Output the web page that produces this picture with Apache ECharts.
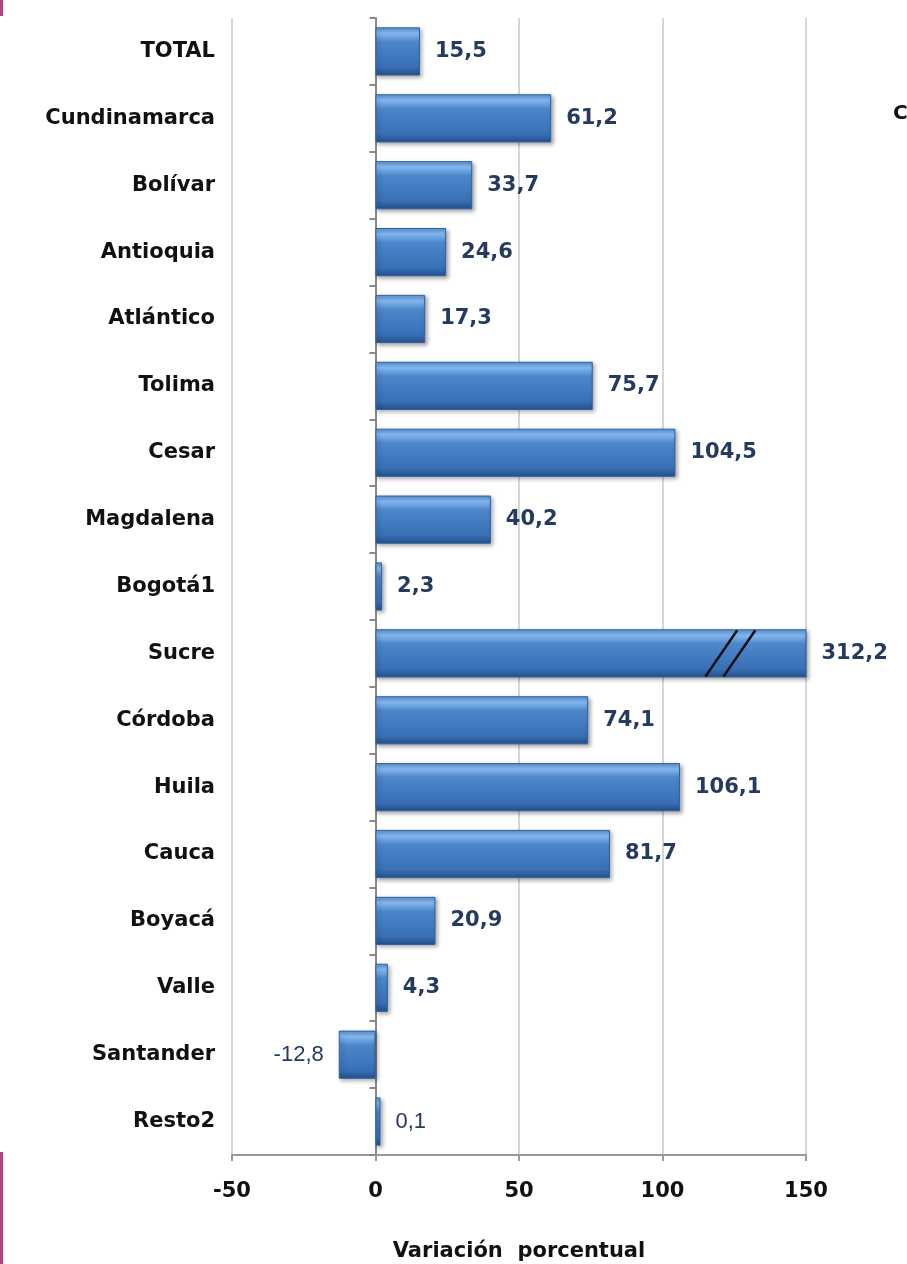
<!DOCTYPE html>
<html>
<head>
<meta charset="utf-8">
<script src="https://cdn.jsdelivr.net/npm/echarts@6/dist/echarts.min.js"></script>
<style>
    html, body {margin: 0; padding: 0; background: #fff;}
    #chart {width: 907px; height: 1264px;}
</style>
</head>
<body>
<div id="chart"></div>
<script>
// categories top to bottom
var departamentos = ['TOTAL', 'Cundinamarca', 'Bolívar', 'Antioquia', 'Atlántico', 'Tolima',
    'Cesar', 'Magdalena', 'Bogotá1', 'Sucre', 'Córdoba', 'Huila', 'Cauca', 'Boyacá',
    'Valle', 'Santander', 'Resto2'];
var variacion = [15.5, 61.2, 33.7, 24.6, 17.3, 75.7, 104.5, 40.2, 2.3, 312.2, 74.1, 106.1,
    81.7, 20.9, 4.3, -12.8, 0.1];
var xTicks = [-50, 0, 50, 100, 150];
// axis break "//" drawn on the clipped Sucre bar
var corteCategoria = 'Sucre';
var corteValores = [120.5, 126.8];

var labelColor = '#243a5e';
var font = '"DejaVu Sans", Verdana, sans-serif';

var barGradient = new echarts.graphic.LinearGradient(0, 0, 0, 1, [
    {offset: 0, color: '#5a93d6'},
    {offset: 0.12, color: '#86baf0'},
    {offset: 0.3, color: '#4d86ca'},
    {offset: 0.82, color: '#3870b6'},
    {offset: 1, color: '#264f88'}
]);

// negative bars carry their label on the left
var barData = variacion.map(function (v) {
    return v < 0 ? {value: v, label: {position: 'left'}} : v;
});

var chart = echarts.init(document.getElementById('chart'));

var option = {
    animation: false,
    backgroundColor: '#fff',
    grid: {left: 232, right: 101, top: 18, bottom: 109, containLabel: false, outerBoundsMode: 'none'},
    xAxis: {
        type: 'value',
        min: xTicks[0],
        max: xTicks[xTicks.length - 1],
        interval: 50,
        name: 'Variación  porcentual',
        nameLocation: 'middle',
        nameGap: 86,
        nameTextStyle: {color: '#111', fontFamily: font, fontWeight: 'bold', fontSize: 21},
        axisLine: {show: true, onZero: false, lineStyle: {color: '#999', width: 2}},
        axisTick: {show: true, length: 6, lineStyle: {color: '#999', width: 2}},
        axisLabel: {color: '#111', fontFamily: font, fontWeight: 'bold', fontSize: 21, margin: 26},
        splitLine: {show: true, lineStyle: {color: '#d6d6d6', width: 2}}
    },
    yAxis: [{
        type: 'category',
        inverse: true,
        data: departamentos,
        axisLine: {show: false, onZero: false},
        axisTick: {show: false},
        axisLabel: {color: '#111', fontFamily: font, fontWeight: 'bold', fontSize: 21, margin: 17}
    }, {
        type: 'category',
        inverse: true,
        data: departamentos,
        position: 'left',
        axisLine: {show: true, onZero: true, lineStyle: {color: '#888', width: 2}},
        axisTick: {show: true, length: 6, lineStyle: {color: '#888', width: 2}},
        axisLabel: {show: false}
    }],
    series: [{
        type: 'bar',
        yAxisIndex: 0,
        data: barData,
        barCategoryGap: '28%',
        barMinHeight: 5,
        clip: true,
        itemStyle: {
            color: barGradient,
            borderColor: '#2f62a4',
            borderWidth: 1,
            shadowBlur: 4,
            shadowOffsetX: 2,
            shadowOffsetY: 2,
            shadowColor: 'rgba(0,0,0,0.35)'
        },
        label: {
            show: true,
            position: 'right',
            distance: 15,
            color: labelColor,
            fontFamily: font,
            fontWeight: 'bold',
            fontSize: 21,
            formatter: function (p) {
                var txt = p.value.toFixed(1).replace('.', ',');
                return p.value < 1 ? '{thin|' + txt + '}' : txt;
            },
            rich: {
                thin: {color: labelColor, fontFamily: '"Liberation Sans", Arial, sans-serif',
                    fontWeight: 'normal', fontSize: 22}
            }
        }
    }, {
        type: 'custom',
        yAxisIndex: 0,
        data: corteValores.map(function (v) {
            return [v, corteCategoria];
        }),
        silent: true,
        z: 5,
        renderItem: function (params, api) {
            var c = api.coord([api.value(0), api.value(1)]);
            var h = api.size([0, 1])[1] * 0.66;
            var dx = h * 0.36;
            return {
                type: 'line',
                shape: {x1: c[0] - dx, y1: c[1] + h / 2 + 1, x2: c[0] + dx, y2: c[1] - h / 2 - 1},
                style: {stroke: '#111', lineWidth: 2.5}
            };
        }
    }],
    graphic: [
        {type: 'rect', left: 0, top: 0, shape: {width: 3, height: 16}, style: {fill: '#b3437f'}},
        {type: 'rect', left: 0, top: 1152, shape: {width: 3, height: 112}, style: {fill: '#b3437f'}},
        {type: 'text', left: 893, top: 104, style: {text: 'C', fill: '#111',
            font: 'bold 20px "DejaVu Sans", sans-serif'}}
    ]
};

chart.setOption(option);
</script>
</body>
</html>
